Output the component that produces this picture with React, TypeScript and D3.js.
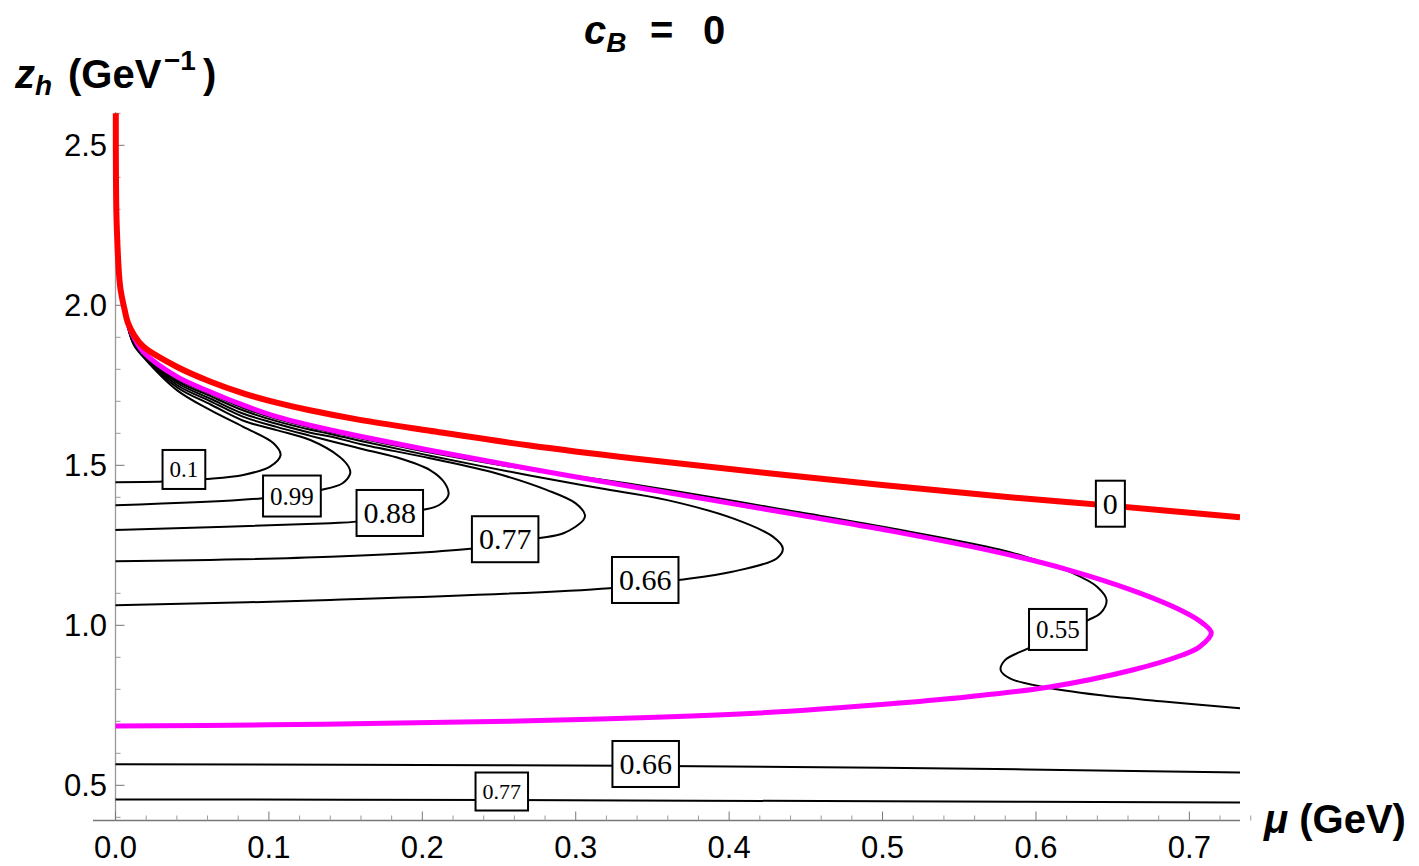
import React from 'react';
import * as d3 from 'd3';

const W = 1419, H = 866;

// curves as [mu (GeV), z_h (GeV^-1)]
const redLine: [number, number][] = [
  [0.0002, 2.6], [0.0003, 2.4], [0.0008, 2.25], [0.003, 2.06], [0.006, 1.985], [0.0081, 1.945],
  [0.012, 1.908], [0.0181, 1.871], [0.0399, 1.808], [0.0616, 1.762], [0.0833, 1.725], [0.105, 1.696],
  [0.1267, 1.672], [0.1593, 1.642], [0.2049, 1.608], [0.27, 1.562], [0.3352, 1.523], [0.446, 1.465],
  [0.5762, 1.403], [0.6485, 1.374], [0.733, 1.3375],
];

const magentaLine: [number, number][] = [
  [0.0085, 1.935], [0.012, 1.9], [0.018, 1.855], [0.04, 1.777], [0.0616, 1.73], [0.0833, 1.688],
  [0.105, 1.652], [0.1267, 1.6253], [0.1593, 1.5909], [0.2049, 1.5472], [0.27, 1.4894], [0.3352, 1.4347],
  [0.446, 1.3444], [0.5111, 1.2897], [0.5762, 1.2272], [0.6199, 1.175], [0.6629, 1.1091],
  [0.6954, 1.0447], [0.7085, 1.0072], [0.7143, 0.9759], [0.7065, 0.9322], [0.6954, 0.9072],
  [0.6629, 0.8603], [0.6088, 0.8072], [0.5547, 0.776], [0.5111, 0.7572], [0.42, 0.726],
  [0.3156, 0.707], [0.1853, 0.6947], [0.1, 0.689], [0, 0.6853],
];

const contour01: [number, number][] = [
  [0, 1.447], [0.031, 1.449], [0.058, 1.457], [0.0833, 1.47], [0.1007, 1.496], [0.1076, 1.532],
  [0.103, 1.569], [0.0833, 1.62], [0.0616, 1.673], [0.04, 1.735], [0.018, 1.839], [0.012, 1.876], [0.0082, 1.93],
];
const contour099: [number, number][] = [
  [0, 1.375], [0.096, 1.397], [0.134, 1.423], [0.148, 1.444], [0.153, 1.475], [0.152, 1.495],
  [0.146, 1.527], [0.127, 1.579], [0.105, 1.61], [0.083, 1.64], [0.062, 1.69], [0.04, 1.744],
  [0.018, 1.842], [0.012, 1.878], [0.0082, 1.93],
];
const contour088: [number, number][] = [
  [0, 1.298], [0.14, 1.319], [0.157, 1.324], [0.2, 1.36], [0.211, 1.376], [0.217, 1.407],
  [0.2147, 1.444], [0.205, 1.485], [0.183, 1.525], [0.16, 1.552], [0.14, 1.576], [0.127, 1.592],
  [0.105, 1.62], [0.083, 1.652], [0.062, 1.7], [0.04, 1.751], [0.018, 1.845], [0.012, 1.88], [0.0082, 1.93],
];
const contour077: [number, number][] = [
  [0, 1.2], [0.14, 1.214], [0.233, 1.24], [0.275, 1.272], [0.292, 1.2875], [0.305, 1.329],
  [0.306, 1.345], [0.3, 1.381], [0.281, 1.423], [0.248, 1.475], [0.205, 1.522], [0.16, 1.566],
  [0.14, 1.59], [0.127, 1.602], [0.105, 1.63], [0.083, 1.662], [0.062, 1.708], [0.04, 1.758],
  [0.018, 1.848], [0.012, 1.882], [0.0082, 1.93],
];
const contour066: [number, number][] = [
  [0, 1.0625], [0.14, 1.079], [0.322, 1.116], [0.367, 1.1415], [0.402, 1.1675], [0.431, 1.209],
  [0.435, 1.24], [0.4285, 1.277], [0.4025, 1.334], [0.359, 1.392], [0.316, 1.428], [0.27, 1.468],
  [0.205, 1.53], [0.16, 1.576], [0.14, 1.598], [0.127, 1.611], [0.105, 1.638], [0.083, 1.672],
  [0.062, 1.716], [0.04, 1.764], [0.018, 1.85], [0.012, 1.884], [0.0082, 1.93],
];
const contour055: [number, number][] = [
  [0.0082, 1.93], [0.012, 1.886], [0.018, 1.852], [0.04, 1.77], [0.062, 1.723], [0.083, 1.68],
  [0.105, 1.645], [0.127, 1.618], [0.16, 1.584], [0.205, 1.54], [0.27, 1.486], [0.3352, 1.442],
  [0.446, 1.353], [0.5111, 1.2985], [0.5762, 1.237], [0.598, 1.207], [0.624, 1.163], [0.64, 1.12],
  [0.646, 1.079], [0.642, 1.0375], [0.634, 1.0165], [0.595, 0.928], [0.58, 0.892], [0.577, 0.86],
  [0.583, 0.834], [0.604, 0.808], [0.641, 0.782], [0.685, 0.761], [0.733, 0.741],
];
const contour066low: [number, number][] = [[0, 0.566], [0.25, 0.563], [0.5, 0.555], [0.733, 0.54]];
const contour077low: [number, number][] = [[0, 0.456], [0.25, 0.454], [0.5, 0.45], [0.733, 0.446]];

const contours = [contour01, contour099, contour088, contour077, contour066, contour055, contour066low, contour077low];

// label boxes sitting on the contours
const contourLabels = [
  { text: '0.1', mu: 0.0446, z: 1.487, size: 23 },
  { text: '0.99', mu: 0.115, z: 1.404, size: 25 },
  { text: '0.88', mu: 0.1788, z: 1.351, size: 30 },
  { text: '0.77', mu: 0.254, z: 1.269, size: 30 },
  { text: '0.66', mu: 0.3453, z: 1.1416, size: 30 },
  { text: '0.55', mu: 0.6143, z: 0.987, size: 25 },
  { text: '0', mu: 0.6485, z: 1.38, size: 30 },
  { text: '0.66', mu: 0.3456, z: 0.5666, size: 30 },
  { text: '0.77', mu: 0.2518, z: 0.4806, size: 22 },
];

const xMajor = [0, 0.1, 0.2, 0.3, 0.4, 0.5, 0.6, 0.7];
const yMajor = [0.5, 1.0, 1.5, 2.0, 2.5];

const sans = 'Liberation Sans, Arial, Helvetica, sans-serif';
const serif = 'Liberation Serif, Times New Roman, serif';

export default function App() {
  const x = d3.scaleLinear().domain([0, 0.733]).range([115.5, 1240]);
  const y = d3.scaleLinear().domain([0.39, 2.6]).range([820.5, 113.3]);

  const line = d3.line<[number, number]>()
    .x(d => x(d[0]))
    .y(d => y(d[1]))
    .curve(d3.curveCatmullRom.alpha(0.5));

  const xMinor = d3.range(0, 0.7401, 0.02).filter(v => !xMajor.some(m => Math.abs(m - v) < 1e-6));
  const yMinor = d3.range(0.4, 2.601, 0.1).filter(v => !yMajor.some(m => Math.abs(m - v) < 1e-6));

  const x0 = x(0), yBase = y(0.39);

  const textW = (t: string, s: number) =>
    t.split('').reduce((a, c) => a + (c === '.' ? 0.25 : 0.5), 0) * s;

  return (
    <svg width={W} height={H} style={{ position: 'absolute', left: 0, top: 0, background: '#fff' }}>
      <defs>
        <clipPath id="plotClip">
          <rect x={0} y={112} width={1240} height={H - 112} />
        </clipPath>
      </defs>

      {/* axes */}
      <line x1={93} x2={1240} y1={yBase} y2={yBase} stroke="#777" strokeWidth={1.3} />
      <line x1={x0} x2={x0} y1={112} y2={yBase} stroke="#999" strokeWidth={1.3} />
      {xMajor.map(v => (
        <g key={'xm' + v}>
          <line x1={x(v)} x2={x(v)} y1={yBase} y2={yBase - 9} stroke="#777" strokeWidth={1} />
          <text x={x(v)} y={858} textAnchor="middle" fontFamily={sans} fontSize={31}>{v.toFixed(1)}</text>
        </g>
      ))}
      {xMinor.map(v => (
        <line key={'xn' + v} x1={x(v)} x2={x(v)} y1={yBase} y2={yBase - 5} stroke="#999" strokeWidth={1} />
      ))}
      {yMajor.map(v => (
        <g key={'ym' + v}>
          <line x1={x0} x2={x0 + 9} y1={y(v)} y2={y(v)} stroke="#777" strokeWidth={1} />
          <text x={107} y={y(v) + 11} textAnchor="end" fontFamily={sans} fontSize={31}>{v.toFixed(1)}</text>
        </g>
      ))}
      {yMinor.map(v => (
        <line key={'yn' + v} x1={x0} x2={x0 + 5} y1={y(v)} y2={y(v)} stroke="#999" strokeWidth={1} />
      ))}

      {/* curves */}
      <g clipPath="url(#plotClip)" fill="none" strokeLinejoin="round">
        {contours.map((c, i) => (
          <path key={'c' + i} d={line(c) || ''} stroke="#000" strokeWidth={2} />
        ))}
        <path d={line(magentaLine) || ''} stroke="#ff00ff" strokeWidth={5} />
        <path d={line(redLine) || ''} stroke="#ff0000" strokeWidth={6} />
      </g>

      {/* contour labels */}
      {contourLabels.map((l, i) => {
        const w = textW(l.text, l.size) + 14;
        const h = l.size + 16;
        return (
          <g key={'l' + i} transform={`translate(${x(l.mu)},${y(l.z)})`}>
            <rect x={-w / 2} y={-h / 2} width={w} height={h} fill="#fff" stroke="#000" strokeWidth={2} />
            <text y={l.size * 0.34} textAnchor="middle" fontFamily={serif} fontSize={l.size}>{l.text}</text>
          </g>
        );
      })}

      {/* title and axis labels */}
      <text y={44} fontFamily={sans} fontWeight="bold" fontSize={40}>
        <tspan x={584} fontStyle="italic">c</tspan>
        <tspan fontStyle="italic" fontSize={28} dy={8}>B</tspan>
        <tspan x={650} dy={-8}>=</tspan>
        <tspan x={703}>0</tspan>
      </text>
      <text y={88} fontFamily={sans} fontWeight="bold" fontSize={40}>
        <tspan x={15} fontStyle="italic">z</tspan>
        <tspan fontStyle="italic" fontSize={28} dy={7}>h</tspan>
        <tspan x={68} dy={-7}>(GeV</tspan>
        <tspan x={164} fontSize={28} dy={-18}>−1</tspan>
        <tspan x={203} dy={18}>)</tspan>
      </text>
      <text x={1264} y={833} fontFamily={sans} fontWeight="bold" fontSize={40}>
        <tspan fontStyle="italic">μ</tspan>
        <tspan> (GeV)</tspan>
      </text>
    </svg>
  );
}
